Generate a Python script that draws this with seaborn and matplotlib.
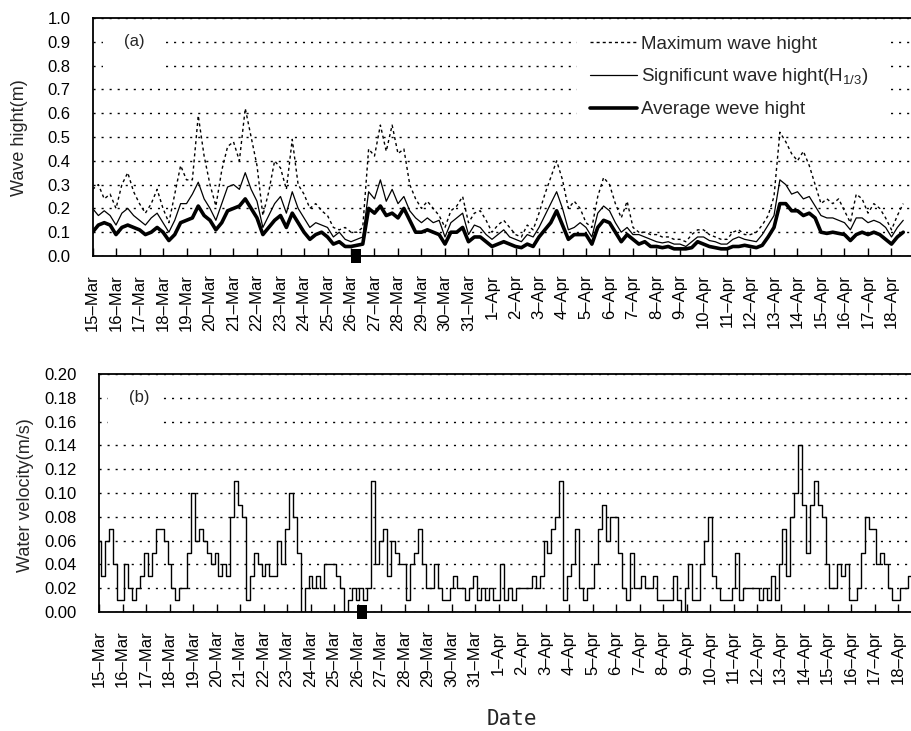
import numpy as np
import matplotlib
matplotlib.use("Agg")
import matplotlib.pyplot as plt
from matplotlib.patches import Rectangle
import seaborn as sns

# ---------------------------------------------------------------------------
# Observations, 15 Mar - 18 Apr (wave heights every 6 h, velocity every 4 h)
# ---------------------------------------------------------------------------
date_labels = [
    "15\u2013Mar", "16\u2013Mar", "17\u2013Mar", "18\u2013Mar", "19\u2013Mar",
    "20\u2013Mar", "21\u2013Mar", "22\u2013Mar", "23\u2013Mar", "24\u2013Mar",
    "25\u2013Mar", "26\u2013Mar", "27\u2013Mar", "28\u2013Mar", "29\u2013Mar",
    "30\u2013Mar", "31\u2013Mar", "1\u2013Apr", "2\u2013Apr", "3\u2013Apr",
    "4\u2013Apr", "5\u2013Apr", "6\u2013Apr", "7\u2013Apr", "8\u2013Apr",
    "9\u2013Apr", "10\u2013Apr", "11\u2013Apr", "12\u2013Apr", "13\u2013Apr",
    "14\u2013Apr", "15\u2013Apr", "16\u2013Apr", "17\u2013Apr", "18\u2013Apr",
]

wave_samples_per_day = 4
vel_samples_per_day = 6

average_wave = [
    0.10, 0.13, 0.14, 0.13,  0.09, 0.12, 0.13, 0.12,  0.11, 0.09, 0.10, 0.12,
    0.10, 0.065, 0.09, 0.14, 0.15, 0.16, 0.21, 0.17,  0.15, 0.11, 0.14, 0.19,
    0.20, 0.21, 0.24, 0.20,  0.16, 0.09, 0.12, 0.15,  0.17, 0.12, 0.18, 0.14,
    0.10, 0.07, 0.09, 0.10,  0.08, 0.05, 0.06, 0.04,  0.04, 0.045, 0.05, 0.20,
    0.18, 0.21, 0.17, 0.18,  0.16, 0.20, 0.15, 0.10,  0.10, 0.11, 0.10, 0.09,
    0.05, 0.10, 0.10, 0.12,  0.06, 0.08, 0.08, 0.06,  0.04, 0.05, 0.06, 0.05,
    0.04, 0.035, 0.05, 0.04, 0.08, 0.11, 0.14, 0.19,  0.13, 0.07, 0.09, 0.09,
    0.09, 0.05, 0.12, 0.15,  0.14, 0.10, 0.06, 0.09,  0.07, 0.05, 0.06, 0.04,
    0.04, 0.035, 0.04, 0.03, 0.03, 0.03, 0.035, 0.06, 0.05, 0.04, 0.035, 0.03,
    0.03, 0.04, 0.04, 0.045, 0.04, 0.035, 0.045, 0.08, 0.12, 0.22, 0.22, 0.19,
    0.19, 0.17, 0.18, 0.16,  0.10, 0.095, 0.10, 0.095, 0.09, 0.065, 0.09, 0.10,
    0.09, 0.10, 0.09, 0.07,  0.05, 0.08, 0.10,
]

significant_wave = [
    0.20, 0.17, 0.19, 0.17,  0.13, 0.18, 0.20, 0.17,  0.15, 0.13, 0.16, 0.18,
    0.14, 0.10, 0.15, 0.22,  0.22, 0.26, 0.31, 0.24,  0.20, 0.15, 0.22, 0.29,
    0.30, 0.28, 0.35, 0.28,  0.23, 0.12, 0.17, 0.22,  0.25, 0.18, 0.27, 0.20,
    0.16, 0.12, 0.14, 0.13,  0.12, 0.08, 0.10, 0.07,  0.06, 0.07, 0.08, 0.27,
    0.24, 0.32, 0.23, 0.28,  0.22, 0.25, 0.19, 0.16,  0.14, 0.16, 0.14, 0.15,
    0.08, 0.14, 0.16, 0.18,  0.09, 0.13, 0.12, 0.09,  0.07, 0.09, 0.11, 0.08,
    0.07, 0.06, 0.09, 0.08,  0.12, 0.17, 0.22, 0.27,  0.20, 0.11, 0.12, 0.14,
    0.12, 0.08, 0.18, 0.21,  0.19, 0.14, 0.10, 0.12,  0.09, 0.09, 0.08, 0.07,
    0.06, 0.055, 0.06, 0.05, 0.05, 0.04, 0.06, 0.08,  0.08, 0.065, 0.06, 0.05,
    0.05, 0.07, 0.08, 0.07,  0.065, 0.06, 0.09, 0.13, 0.17, 0.32, 0.30, 0.26,
    0.27, 0.24, 0.25, 0.21,  0.17, 0.16, 0.16, 0.15,  0.14, 0.11, 0.16, 0.16,
    0.14, 0.15, 0.14, 0.12,  0.08, 0.12, 0.15,
]

maximum_wave = [
    0.28, 0.30, 0.24, 0.26,  0.20, 0.30, 0.35, 0.27,  0.22, 0.18, 0.22, 0.28,
    0.20, 0.14, 0.26, 0.38,  0.32, 0.32, 0.59, 0.42,  0.30, 0.21, 0.36, 0.46,
    0.48, 0.40, 0.62, 0.50,  0.38, 0.17, 0.27, 0.40,  0.37, 0.28, 0.49, 0.30,
    0.26, 0.20, 0.22, 0.19,  0.17, 0.12, 0.11, 0.12,  0.10, 0.10, 0.12, 0.45,
    0.42, 0.55, 0.44, 0.55,  0.43, 0.45, 0.30, 0.24,  0.20, 0.23, 0.20, 0.17,
    0.12, 0.19, 0.21, 0.25,  0.14, 0.18, 0.19, 0.15,  0.10, 0.13, 0.15, 0.12,
    0.09, 0.08, 0.13, 0.11,  0.18, 0.26, 0.33, 0.40,  0.32, 0.20, 0.23, 0.20,
    0.14, 0.12, 0.25, 0.33,  0.30, 0.22, 0.16, 0.23,  0.12, 0.10, 0.10, 0.09,
    0.09, 0.08, 0.08, 0.07,  0.07, 0.06, 0.09, 0.11,  0.11, 0.09, 0.08, 0.07,
    0.07, 0.10, 0.11, 0.09,  0.09, 0.10, 0.13, 0.17,  0.25, 0.52, 0.48, 0.43,
    0.40, 0.44, 0.38, 0.30,  0.22, 0.24, 0.22, 0.24,  0.19, 0.14, 0.26, 0.24,
    0.18, 0.22, 0.20, 0.16,  0.11, 0.17, 0.22,
]

water_velocity = [
    0.06, 0.03, 0.06, 0.07, 0.04, 0.01,   0.01, 0.04, 0.02, 0.01, 0.02, 0.03,
    0.05, 0.03, 0.05, 0.07, 0.07, 0.06,   0.04, 0.02, 0.01, 0.02, 0.02, 0.05,
    0.10, 0.06, 0.07, 0.06, 0.05, 0.04,   0.05, 0.03, 0.04, 0.03, 0.08, 0.11,
    0.09, 0.08, 0.01, 0.03, 0.05, 0.04,   0.03, 0.04, 0.03, 0.03, 0.06, 0.04,
    0.07, 0.10, 0.08, 0.05, 0.00, 0.02,   0.03, 0.02, 0.03, 0.02, 0.04, 0.04,
    0.04, 0.03, 0.02, 0.00, 0.01, 0.02,   0.01, 0.02, 0.01, 0.02, 0.11, 0.04,
    0.06, 0.07, 0.03, 0.06, 0.05, 0.04,   0.04, 0.01, 0.04, 0.05, 0.07, 0.04,
    0.02, 0.02, 0.04, 0.02, 0.01, 0.01,   0.02, 0.03, 0.02, 0.02, 0.01, 0.02,
    0.03, 0.01, 0.02, 0.01, 0.02, 0.01,   0.01, 0.04, 0.01, 0.02, 0.01, 0.02,
    0.02, 0.02, 0.02, 0.03, 0.02, 0.03,   0.06, 0.05, 0.07, 0.08, 0.11, 0.01,
    0.03, 0.04, 0.07, 0.02, 0.01, 0.02,   0.02, 0.04, 0.07, 0.09, 0.06, 0.08,
    0.08, 0.05, 0.02, 0.01, 0.05, 0.02,   0.02, 0.03, 0.02, 0.02, 0.03, 0.01,
    0.01, 0.01, 0.01, 0.03, 0.01, 0.00,   0.02, 0.04, 0.01, 0.01, 0.04, 0.06,
    0.08, 0.03, 0.02, 0.01, 0.01, 0.01,   0.02, 0.05, 0.01, 0.02, 0.02, 0.02,
    0.02, 0.01, 0.02, 0.01, 0.03, 0.01,   0.04, 0.07, 0.03, 0.08, 0.10, 0.14,
    0.09, 0.05, 0.09, 0.11, 0.09, 0.08,   0.04, 0.02, 0.02, 0.04, 0.03, 0.04,
    0.01, 0.01, 0.02, 0.05, 0.08, 0.07,   0.07, 0.04, 0.05, 0.04, 0.02, 0.01,
    0.01, 0.02, 0.02, 0.03, 0.05,
]

wave_ticks = [0.0, 0.1, 0.2, 0.3, 0.4, 0.5, 0.6, 0.7, 0.8, 0.9, 1.0]
vel_ticks = [0.00, 0.02, 0.04, 0.06, 0.08, 0.10, 0.12, 0.14, 0.16, 0.18, 0.20]
event_day = 11.2   # day marked on both time axes

legend_labels = [
    "Maximum wave hight",
    r"Significunt wave hight(H$_{\mathrm{1/3}}$)",
    "Average weve hight",
]

# ---------------------------------------------------------------------------
sns.set_style("white")
plt.rcParams["font.family"] = ["Liberation Sans", "DejaVu Sans"]
plt.rcParams["mathtext.fontset"] = "custom"
plt.rcParams["mathtext.rm"] = "Liberation Sans"
plt.rcParams["mathtext.it"] = "Liberation Sans:italic"

W, H = 911, 731
fig = plt.figure(figsize=(W / 100, H / 100), dpi=100)
ax1 = fig.add_axes([92.5 / W, 1 - 256 / H, (W - 92.5) / W, (256 - 18) / H])
ax2 = fig.add_axes([99 / W, 1 - 612 / H, (W - 99) / W, (612 - 374) / H])

t_wave = np.arange(len(average_wave)) / wave_samples_per_day
t_vel = np.arange(len(water_velocity)) / vel_samples_per_day

grid_style = dict(color="black", linestyle=(0, (1.5, 4.3)), linewidth=1.0)

# ---- (a) wave heights ------------------------------------------------------
sns.lineplot(x=t_wave, y=maximum_wave, ax=ax1, color="black", lw=1.0,
             linestyle=(0, (2.2, 2.2)), legend=False)
sns.lineplot(x=t_wave, y=significant_wave, ax=ax1, color="black", lw=0.9,
             legend=False)
sns.lineplot(x=t_wave, y=average_wave, ax=ax1, color="black", lw=2.6,
             legend=False)

ax1.set_ylim(0, 1.0)
ax1.set_yticks(wave_ticks)
ax1.set_yticklabels([f"{v:.1f}" for v in wave_ticks])

# white patches behind the panel tag and the legend
ax1.add_patch(Rectangle((0.45, 0.76), 2.6, 0.18, facecolor="white",
                        edgecolor="none", zorder=1))
ax1.add_patch(Rectangle((20.6, 0.565), 13.4, 0.37, facecolor="white",
                        edgecolor="none", zorder=1))
ax1.text(1.76, 0.9, "(a)", fontsize=12, ha="center", va="center", zorder=3)

leg = ax1.legend(ax1.lines[:3], legend_labels, loc="upper left",
                 bbox_to_anchor=(0.608, 0.925), frameon=False, fontsize=13.5,
                 handlelength=2.5, handletextpad=0.2, labelspacing=0.72,
                 borderpad=0, borderaxespad=0)
leg.set_zorder(4)

# ---- (b) water velocity ----------------------------------------------------
sns.lineplot(x=t_vel, y=water_velocity, ax=ax2, color="black", lw=1.0,
             drawstyle="steps-mid", legend=False)
ax2.set_ylim(0, 0.20)
ax2.set_yticks(vel_ticks)
ax2.set_yticklabels([f"{v:.2f}" for v in vel_ticks])
ax2.add_patch(Rectangle((0.38, 0.15), 2.35, 0.04, facecolor="white",
                        edgecolor="none", zorder=1))
ax2.text(1.71, 0.18, "(b)", fontsize=12, ha="center", va="center", zorder=3)

# ---- shared axis styling ---------------------------------------------------
for ax, x_px in ((ax1, 92.5), (ax2, 99)):
    ax.set_axisbelow(True)
    ax.set_xlim(0, (W - x_px) / 23.5)
    ax.set_xticks(range(len(date_labels)))
    ax.set_xticklabels(date_labels, rotation=90)
    ax.tick_params(axis="x", direction="in", length=6, width=1.0, pad=13,
                   labelsize=12, colors="black", bottom=True)
    ax.tick_params(axis="y", length=0, pad=16, labelsize=12, colors="black")
    ax.yaxis.grid(True, **grid_style)
    ax.xaxis.grid(False)
    ax.set_xlabel("")
    ax.set_ylabel("")
    for side in ("left", "bottom", "top"):
        ax.spines[side].set_color("black")
        ax.spines[side].set_linewidth(1.3)
    ax.spines["right"].set_visible(False)
    # event marker straddling the time axis
    ax.add_patch(Rectangle((event_day - 0.21, -0.03), 0.42, 0.06,
                           transform=ax.get_xaxis_transform(),
                           facecolor="black", edgecolor="none",
                           clip_on=False, zorder=6))

fig.text(20 / W, 1 - 138 / H, "Wave hight(m)", rotation=90, ha="center",
         va="center", fontsize=13)
fig.text(26 / W, 1 - 495 / H, "Water velocity(m/s)", rotation=90,
         ha="center", va="center", fontsize=13)
fig.text(512 / W, 1 - 719 / H, "Date", ha="center", va="center",
         fontsize=15, family=["DejaVu Sans Mono"])

fig.savefig("out.png", dpi=100, facecolor="white")
